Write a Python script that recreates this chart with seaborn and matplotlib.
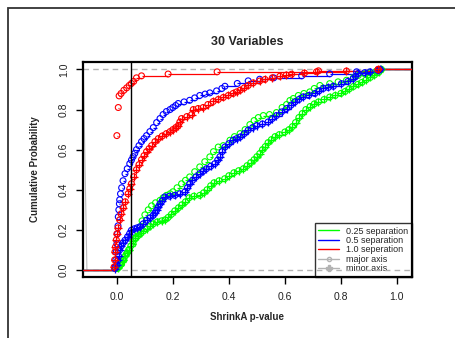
import matplotlib
matplotlib.use("Agg")
import matplotlib.pyplot as plt
from matplotlib.lines import Line2D
from matplotlib.patches import Rectangle
import numpy as np
import seaborn as sns

# ECDF knots: p-value and cumulative probability
sep025_major_p = [0.000, 0.008, 0.017, 0.025, 0.035, 0.045, 0.058, 0.068, 0.075, 0.082,
                  0.090, 0.100, 0.112, 0.124, 0.138, 0.154, 0.165, 0.177, 0.190, 0.200,
                  0.215, 0.231, 0.245, 0.260, 0.278, 0.296, 0.314, 0.332, 0.345, 0.362,
                  0.380, 0.404, 0.420, 0.440, 0.458, 0.475, 0.490, 0.505, 0.523, 0.545,
                  0.570, 0.590, 0.606, 0.618, 0.630, 0.648, 0.668, 0.689, 0.705, 0.725,
                  0.760, 0.790, 0.820, 0.845, 0.862, 0.885, 0.904, 0.925, 0.940]
sep025_major_cdf = [0.007, 0.015, 0.030, 0.050, 0.080, 0.100, 0.130, 0.160, 0.190, 0.215,
                    0.245, 0.275, 0.300, 0.320, 0.335, 0.347, 0.360, 0.372, 0.380, 0.390,
                    0.410, 0.430, 0.447, 0.464, 0.490, 0.514, 0.540, 0.564, 0.590, 0.613,
                    0.620, 0.647, 0.665, 0.680, 0.700, 0.725, 0.745, 0.760, 0.770, 0.775,
                    0.785, 0.810, 0.825, 0.845, 0.855, 0.870, 0.880, 0.888, 0.905, 0.920,
                    0.929, 0.938, 0.946, 0.960, 0.970, 0.978, 0.983, 0.990, 1.000]

sep025_minor_p = [0.003, 0.010, 0.017, 0.023, 0.030, 0.036, 0.042, 0.050, 0.058, 0.066,
                  0.075, 0.085, 0.095, 0.106, 0.118, 0.130, 0.145, 0.160, 0.172, 0.183,
                  0.195, 0.207, 0.220, 0.232, 0.245, 0.258, 0.275, 0.296, 0.310, 0.322,
                  0.335, 0.347, 0.365, 0.385, 0.400, 0.418, 0.435, 0.452, 0.465, 0.478,
                  0.490, 0.500, 0.510, 0.520, 0.530, 0.540, 0.552, 0.565, 0.580, 0.600,
                  0.615, 0.627, 0.638, 0.650, 0.662, 0.675, 0.690, 0.705, 0.720, 0.740,
                  0.760, 0.780, 0.800, 0.815, 0.830, 0.845, 0.860, 0.875, 0.890, 0.905,
                  0.920, 0.935, 0.945]
sep025_minor_cdf = [0.008, 0.025, 0.040, 0.050, 0.070, 0.085, 0.100, 0.120, 0.145, 0.160,
                    0.170, 0.183, 0.195, 0.205, 0.218, 0.230, 0.240, 0.245, 0.250, 0.262,
                    0.278, 0.295, 0.310, 0.325, 0.340, 0.360, 0.368, 0.372, 0.385, 0.400,
                    0.420, 0.435, 0.445, 0.455, 0.470, 0.485, 0.495, 0.505, 0.520, 0.535,
                    0.550, 0.565, 0.580, 0.600, 0.615, 0.635, 0.650, 0.665, 0.675, 0.688,
                    0.700, 0.715, 0.735, 0.760, 0.780, 0.800, 0.815, 0.828, 0.838, 0.850,
                    0.862, 0.870, 0.880, 0.890, 0.903, 0.915, 0.925, 0.935, 0.948, 0.960,
                    0.972, 0.985, 1.000]

sep05_major_p = [-0.007, -0.004, -0.002, 0.000, 0.002, 0.004, 0.005, 0.007, 0.009, 0.010,
                 0.013, 0.017, 0.022, 0.029, 0.037, 0.046, 0.052, 0.058, 0.064, 0.070,
                 0.079, 0.088, 0.097, 0.106, 0.118, 0.130, 0.142, 0.154, 0.165, 0.177,
                 0.190, 0.200, 0.210, 0.219, 0.240, 0.260, 0.278, 0.296, 0.315, 0.332,
                 0.356, 0.375, 0.386, 0.430, 0.469, 0.510, 0.560, 0.660, 0.760, 0.856,
                 0.933, 0.940]
sep05_major_cdf = [0.015, 0.050, 0.090, 0.130, 0.180, 0.220, 0.265, 0.300, 0.330, 0.350,
                   0.380, 0.410, 0.445, 0.480, 0.505, 0.530, 0.548, 0.565, 0.582, 0.600,
                   0.620, 0.640, 0.655, 0.670, 0.690, 0.710, 0.735, 0.755, 0.775, 0.790,
                   0.800, 0.810, 0.820, 0.830, 0.838, 0.846, 0.858, 0.870, 0.877, 0.883,
                   0.893, 0.905, 0.916, 0.930, 0.943, 0.951, 0.958, 0.968, 0.978, 0.988,
                   0.996, 1.000]

sep05_minor_p = [-0.007, 0.000, 0.003, 0.006, 0.010, 0.016, 0.022, 0.029, 0.038, 0.045,
                 0.052, 0.062, 0.072, 0.082, 0.094, 0.106, 0.118, 0.130, 0.136, 0.142,
                 0.148, 0.154, 0.162, 0.171, 0.188, 0.207, 0.225, 0.243, 0.252, 0.260,
                 0.270, 0.283, 0.296, 0.308, 0.320, 0.335, 0.350, 0.360, 0.368, 0.376,
                 0.386, 0.400, 0.415, 0.428, 0.440, 0.455, 0.469, 0.485, 0.499, 0.520,
                 0.540, 0.555, 0.570, 0.588, 0.606, 0.622, 0.636, 0.650, 0.665, 0.685,
                 0.707, 0.722, 0.737, 0.755, 0.773, 0.802, 0.825, 0.844, 0.852, 0.862,
                 0.885, 0.904, 0.933, 0.940]
sep05_minor_cdf = [0.007, 0.025, 0.048, 0.070, 0.100, 0.120, 0.135, 0.148, 0.165, 0.180,
                   0.198, 0.205, 0.210, 0.215, 0.230, 0.248, 0.260, 0.273, 0.285, 0.298,
                   0.315, 0.330, 0.345, 0.364, 0.368, 0.372, 0.380, 0.389, 0.410, 0.430,
                   0.447, 0.465, 0.480, 0.493, 0.505, 0.517, 0.530, 0.548, 0.565, 0.590,
                   0.613, 0.630, 0.647, 0.655, 0.663, 0.680, 0.697, 0.710, 0.720, 0.728,
                   0.738, 0.755, 0.770, 0.788, 0.805, 0.822, 0.838, 0.850, 0.863, 0.870,
                   0.880, 0.893, 0.905, 0.910, 0.916, 0.929, 0.940, 0.954, 0.965, 0.980,
                   0.984, 0.988, 0.996, 1.000]

sep10_major_p = [0.000, 0.005, 0.008, 0.015, 0.025, 0.035, 0.044, 0.052, 0.060, 0.070,
                 0.088, 0.183, 0.358, 0.720, 0.933]
sep10_major_cdf = [0.670, 0.810, 0.868, 0.880, 0.896, 0.908, 0.920, 0.930, 0.940, 0.958,
                   0.968, 0.977, 0.988, 0.993, 1.000]

sep10_minor_p = [-0.010, -0.008, -0.007, -0.005, -0.002, 0.000, 0.004, 0.010, 0.015, 0.023,
                 0.030, 0.040, 0.046, 0.052, 0.060, 0.070, 0.079, 0.088, 0.097, 0.106,
                 0.115, 0.124, 0.136, 0.148, 0.162, 0.177, 0.190, 0.200, 0.210, 0.219,
                 0.225, 0.231, 0.250, 0.267, 0.273, 0.290, 0.308, 0.325, 0.344, 0.362,
                 0.380, 0.398, 0.415, 0.428, 0.440, 0.455, 0.469, 0.487, 0.510, 0.529,
                 0.555, 0.582, 0.605, 0.624, 0.670, 0.713, 0.820, 0.933]
sep10_minor_cdf = [0.015, 0.050, 0.090, 0.115, 0.150, 0.180, 0.210, 0.250, 0.280, 0.310,
                   0.340, 0.380, 0.405, 0.430, 0.465, 0.500, 0.525, 0.550, 0.570, 0.590,
                   0.605, 0.620, 0.640, 0.655, 0.668, 0.680, 0.690, 0.700, 0.710, 0.720,
                   0.738, 0.755, 0.765, 0.775, 0.800, 0.805, 0.810, 0.825, 0.840, 0.850,
                   0.860, 0.870, 0.880, 0.888, 0.896, 0.908, 0.920, 0.933, 0.942, 0.950,
                   0.958, 0.966, 0.972, 0.976, 0.982, 0.988, 0.992, 1.000]

# faint grey stroke along the left edge of the panel
edge_x = [-0.120, -0.107]
edge_y = [1.01, 0.0]

legend_labels = ["0.25 separation", "0.5 separation", "1.0 seperation", "major axis", "minor axis"]
sep_colors = ["#00FF00", "#0000FF", "#FF0000"]
cutoff = 0.05

XLIM = (-0.121, 1.054)
YLIM = (-0.035, 1.037)


def draw_ecdf(ax, p, cdf, color, minor):
    xs = np.asarray(p)
    ys = np.asarray(cdf)
    # horizontal steps only, like R's plot.ecdf (verticals = FALSE)
    left = np.r_[XLIM[0], xs]
    right = np.r_[xs, XLIM[1]]
    level = np.r_[0.0, ys]
    ax.hlines(level, left, right, colors=color, lw=0.9, zorder=3)
    sns.scatterplot(x=xs, y=ys, ax=ax, marker="o", s=18, facecolors="none",
                    edgecolor=color, linewidth=0.8, zorder=4)
    if minor:
        sns.scatterplot(x=xs, y=ys, ax=ax, marker="+", s=30, color=color,
                        linewidth=0.9, zorder=4)


sns.set_theme(style="white")
plt.rcParams["font.family"] = ["Liberation Sans", "DejaVu Sans"]

fig = plt.figure(figsize=(4.55, 3.38), dpi=100)
ax = fig.add_axes([0.1824, 0.1805, 0.7231, 0.6361])

ax.axhline(0, color="#B3B3B3", lw=1, ls=(0, (4, 3)), zorder=2)
ax.axhline(1, color="#B3B3B3", lw=1, ls=(0, (4, 3)), zorder=2)
sns.lineplot(x=edge_x, y=edge_y, ax=ax, color="#BDBDBD", lw=0.8, sort=False, zorder=2)

series = [
    (sep025_major_p, sep025_major_cdf, sep025_minor_p, sep025_minor_cdf),
    (sep05_major_p, sep05_major_cdf, sep05_minor_p, sep05_minor_cdf),
    (sep10_major_p, sep10_major_cdf, sep10_minor_p, sep10_minor_cdf),
]
for (mp, mc, np_, nc), col in zip(series, sep_colors):
    draw_ecdf(ax, mp, mc, col, minor=False)
    draw_ecdf(ax, np_, nc, col, minor=True)

ax.axvline(cutoff, color="black", lw=1, zorder=5)

ax.set_xlim(*XLIM)
ax.set_ylim(*YLIM)
ax.set_xticks([0.0, 0.2, 0.4, 0.6, 0.8, 1.0])
ax.set_yticks([0.0, 0.2, 0.4, 0.6, 0.8, 1.0])
ax.set_xticklabels(["0.0", "0.2", "0.4", "0.6", "0.8", "1.0"], fontsize=7.5)
ax.set_yticklabels(["0.0", "0.2", "0.4", "0.6", "0.8", "1.0"], fontsize=7.5,
                   rotation=90, va="center")
ax.tick_params(axis="both", which="major", direction="out", length=5, width=1,
               color="black", labelcolor="#222222", left=True, bottom=True)
ax.tick_params(axis="x", pad=6)
ax.tick_params(axis="y", pad=5)
for s in ax.spines.values():
    s.set_color("black")
    s.set_linewidth(1.6)

ax.set_title("30 Variables", fontsize=9, fontweight="bold", pad=12)
ax.set_xlabel("ShrinkA p-value", fontsize=7, fontweight="bold")
ax.set_ylabel("Cumulative Probability", fontsize=7, fontweight="bold",
              family=["Liberation Sans Narrow", "Liberation Sans"])
ax.xaxis.set_label_coords(0.5, -0.165)
ax.yaxis.set_label_coords(-0.13, 0.5)

handles = [
    Line2D([], [], color=sep_colors[0], lw=1),
    Line2D([], [], color=sep_colors[1], lw=1),
    Line2D([], [], color=sep_colors[2], lw=1),
    Line2D([], [], color="#B3B3B3", lw=1, marker="o", ms=3, mfc="none"),
    Line2D([], [], color="#B3B3B3", lw=1, marker="P", ms=4),
]
leg = ax.legend(handles, legend_labels, loc="lower right", bbox_to_anchor=(1.0, 0.0),
                borderaxespad=0, fontsize=6.5, frameon=True, fancybox=False,
                handlelength=2.3, handletextpad=0.8, labelspacing=0.05,
                borderpad=0.4)
leg.get_frame().set_edgecolor("black")
leg.get_frame().set_linewidth(1)
leg.get_frame().set_facecolor("none")
leg.set_zorder(1)

# outer device border (only left and top edges fall inside the image)
fig.patches.append(Rectangle((8 / 455, -0.2), 1.5, 1.2 - 8 / 338,
                             transform=fig.transFigure, fill=False,
                             edgecolor="#333333", lw=1.3))

fig.savefig("out.png", dpi=100)
